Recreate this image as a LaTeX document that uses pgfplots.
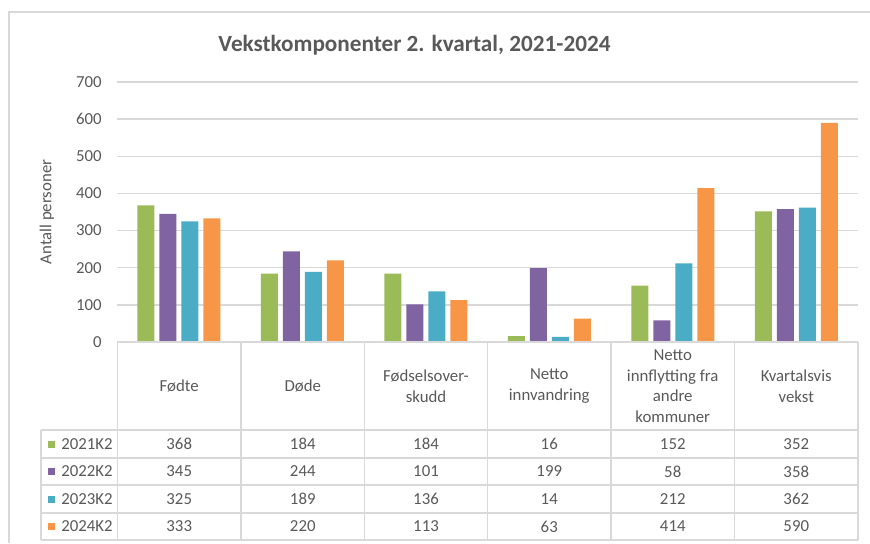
\documentclass[border=0pt]{standalone}
\usepackage{pgfplots}
\pgfplotsset{compat=1.18}
\usepackage{fontspec}
\setmainfont{Carlito}
\definecolor{cG}{HTML}{9BBB59}
\definecolor{cP}{HTML}{8064A2}
\definecolor{cC}{HTML}{4BACC6}
\definecolor{cO}{HTML}{F79646}
\definecolor{gridc}{HTML}{D9D9D9}
\definecolor{txt}{HTML}{595959}
\newcommand\tfont{\fontsize{12.6}{15.5}\selectfont}
\begin{document}
\begin{tikzpicture}
\begin{scope}[x=0.75pt,y=-0.75pt]
\useasboundingbox (0,0) rectangle (870,543);
\draw[gridc, line width=1.1pt] (9,543) -- (9,12) -- (870,12);
\node[txt, font=\fontsize{17.4}{21}\bfseries] at (414.5,45) {Vekstkomponenter 2. kvartal, 2021-2024};
\node[txt, font=\tfont, rotate=90] at (47,212) {Antall personer};
\end{scope}
\begin{axis}[
  at={(87.75pt,-256.5pt)}, anchor=south west,
  scale only axis, width=555.75pt, height=195pt,
  ybar, bar width=12.75pt, ybar=3.75pt,
  xmin=-0.5, xmax=5.5, ymin=0, ymax=700,
  ytick={0,100,...,700}, xtick=\empty,
  axis line style={draw=none},
  ymajorgrids, grid style={gridc, line width=1pt},
  major tick length=0pt,
  yticklabel style={txt, font=\tfont, anchor=east, inner sep=0pt, xshift=-11.25pt},
  /pgf/number format/assume math mode=true,
  clip=false,
]
\addplot[fill=cG, draw=none] coordinates {(0,368) (1,184) (2,184) (3,16) (4,152) (5,352)};
\addplot[fill=cP, draw=none] coordinates {(0,345) (1,244) (2,101) (3,199) (4,58) (5,358)};
\addplot[fill=cC, draw=none] coordinates {(0,325) (1,189) (2,136) (3,14) (4,212) (5,362)};
\addplot[fill=cO, draw=none] coordinates {(0,333) (1,220) (2,113) (3,63) (4,414) (5,590)};
\end{axis}
\begin{scope}[x=0.75pt,y=-0.75pt]
% table grid
\draw[gridc, line width=1.1pt] (117.5,342) -- (858,342);
\foreach \xx in {117.5,241,364.5,487.5,611,734.5,858} \draw[gridc, line width=1.1pt] (\xx,342) -- (\xx,540);
\draw[gridc, line width=1.1pt] (41,430) -- (41,540);
\foreach \yy in {430,458,485,513,540} \draw[gridc, line width=1.1pt] (41,\yy) -- (858,\yy);
% header
\foreach \xx/\t in {179.25/{Fødte},302.75/{Døde},426/{Fødselsover-\\skudd},549.25/{Netto\\innvandring},672.75/{Netto\\innflytting fra\\andre\\kommuner},796.25/{Kvartalsvis\\vekst}}
  \node[txt, font=\tfont, align=center] at (\xx,386) {\t};
% legend column
\foreach \c/\l/\yy in {cG/2021K2/444,cP/2022K2/471.5,cC/2023K2/499,cO/2024K2/526.5}{
  \fill[\c] (48,\yy-3.5) rectangle (55,\yy+3.5);
  \node[txt, font=\tfont, anchor=west, inner sep=0pt] at (61,\yy) {\l};
}
% values
\newcommand\rowvals[7]{%
  \foreach \xx/\v in {179.25/#2,302.75/#3,426/#4,549.25/#5,672.75/#6,796.25/#7}
    \node[txt, font=\tfont] at (\xx,#1) {\v};}
\rowvals{444}{368}{184}{184}{16}{152}{352}
\rowvals{471.5}{345}{244}{101}{199}{58}{358}
\rowvals{499}{325}{189}{136}{14}{212}{362}
\rowvals{526.5}{333}{220}{113}{63}{414}{590}
\end{scope}
\end{tikzpicture}
\end{document}
